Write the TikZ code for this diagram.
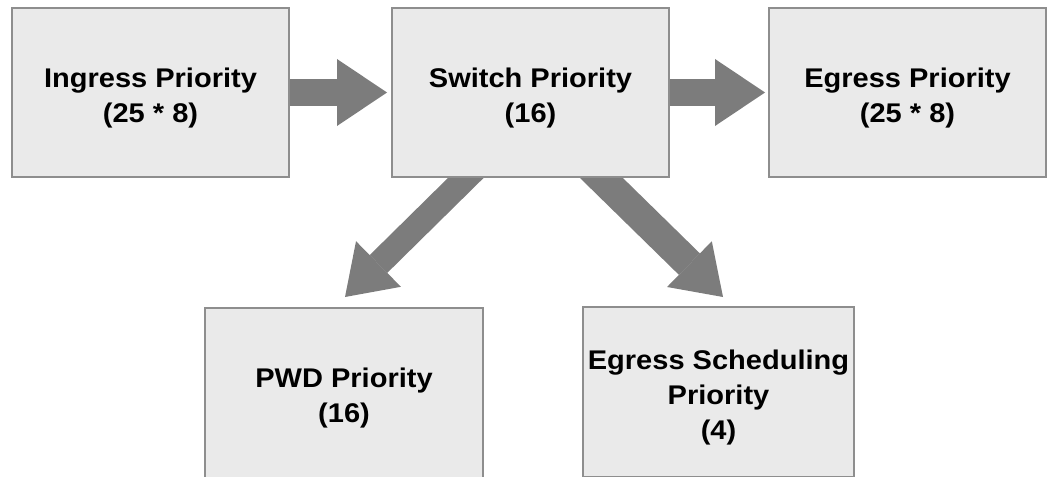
\documentclass[tikz,border=0pt]{standalone}
\usepackage{fontspec}
\newfontfamily\labfont{Liberation Sans}[FakeStretch=1.075]
\usetikzlibrary{arrows.meta,backgrounds}
\definecolor{boxfill}{HTML}{EAEAEA}
\definecolor{boxline}{HTML}{8E8E8E}
\definecolor{arrowgray}{HTML}{7C7C7C}
\newcommand{\lnup}{\rule{0pt}{1.1em}}
\begin{document}
\begin{tikzpicture}[x=1pt,y=-1pt,
  pbox/.style={draw=boxline, fill=boxfill, line width=1.6pt, align=center,
    inner sep=0pt, font=\labfont\bfseries\fontsize{27}{35}\selectfont},
  flowh/.style={draw=arrowgray, line width=27pt,
    -{Triangle[length=50pt,width=67pt,line width=0pt]}},
  flowd/.style={draw=arrowgray, line width=#1,
    -{Triangle[length=47pt,width=64pt,line width=0pt]}}]
\useasboundingbox (0,0) rectangle (1048,476);
\clip (0,0) rectangle (1048,476);
\node[pbox, minimum width=277pt, minimum height=169pt] (ing) at (150.5,92.5) {\lnup Ingress Priority\\(25 * 8)};
\node[pbox, minimum width=277pt, minimum height=169pt] (sw) at (530.5,92.5) {\lnup Switch Priority\\(16)};
\node[pbox, minimum width=277pt, minimum height=169pt] (eg) at (907.5,92.5) {\lnup Egress Priority\\(25 * 8)};
\node[pbox, minimum width=278pt, minimum height=170pt] (pwd) at (344,393) {\lnup PWD Priority\\(16)};
\node[pbox, minimum width=271pt, minimum height=170pt] (es) at (718.5,392) {\lnup Egress Scheduling\\Priority\\(4)};
\coordinate (t1) at (387,92.5);
\coordinate (t2) at (765,92.5);
\coordinate (s3) at (484,160);
\coordinate (t3) at (345,297);
\coordinate (s4) at (580,157);
\coordinate (t4) at (723,297);
\begin{scope}[on background layer]
\draw[flowh] (ing.east) -- (t1);
\draw[flowh] (sw.east) -- (t2);
\draw[flowd=25pt] (s3) -- (t3);
\draw[flowd=30pt] (s4) -- (t4);
\end{scope}
\end{tikzpicture}
\end{document}
